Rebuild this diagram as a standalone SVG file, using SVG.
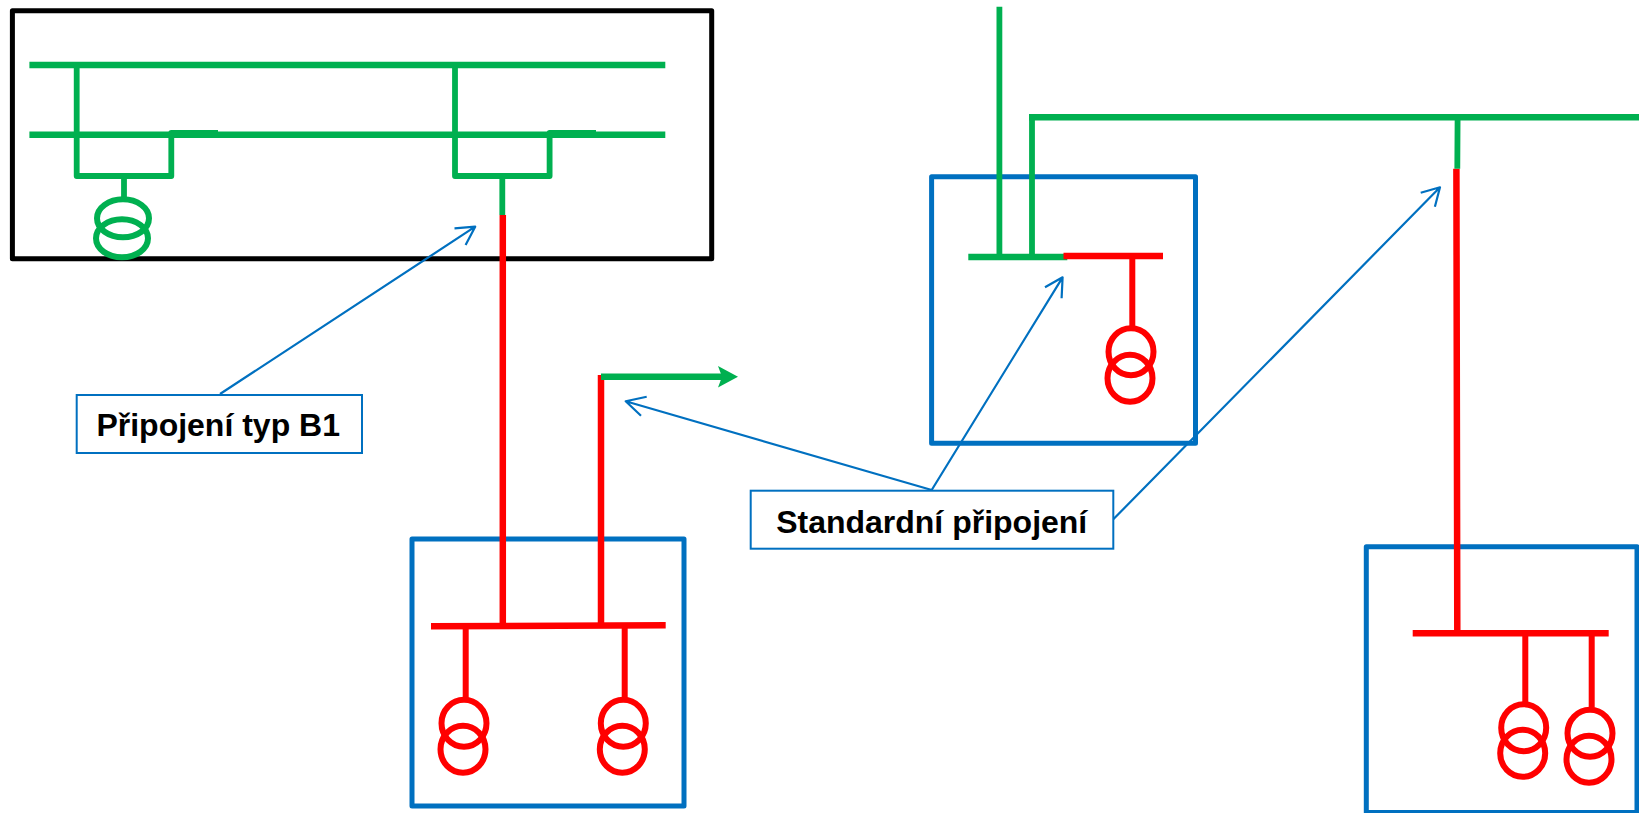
<svg xmlns="http://www.w3.org/2000/svg" width="1639" height="813" viewBox="0 0 1639 813">
<style>
.k{fill:none;stroke:#000;stroke-width:5;stroke-linejoin:round}
.b{fill:none;stroke:#0070c0;stroke-width:5;stroke-linejoin:round}
.g{fill:none;stroke:#00b050;stroke-width:5.8;stroke-linejoin:round}
.r{fill:none;stroke:#ff0000;stroke-width:6;stroke-linejoin:round}
.rc{fill:none;stroke:#ff0000;stroke-width:6.5}
.gb{fill:none;stroke:#00b050;stroke-width:6.6}
.rb{fill:none;stroke:#ff0000;stroke-width:6.6}
.e{stroke-width:6}
.a{fill:none;stroke:#0070c0;stroke-width:2.2;stroke-linejoin:round}
.l{fill:#fff;stroke:#0070c0;stroke-width:2}
.t{font-family:"Liberation Sans",Arial,sans-serif;font-weight:700;font-size:32px;fill:#000;text-anchor:middle}
</style>
<g id="substation-main">
<rect class="k" x="12.4" y="10.7" width="699.3" height="248"/>
<path class="gb" d="M29.4 65H665.3M29.4 134.7H665.3"/>
<path class="g" d="M76.7 65V176H171.3V133H218M124 176V197"/>
<ellipse class="g e" cx="123" cy="218.3" rx="26" ry="19"/>
<ellipse class="g e" cx="122" cy="238.3" rx="26" ry="19"/>
<path class="g" d="M455 65V176H549.6V133H596M502.3 176V215"/>
</g>
<g id="substation-a">
<rect class="b" x="412" y="539" width="272" height="267"/>
<path class="rb" d="M431 626.3L665.7 625.3"/>
<path class="r" d="M465.7 626V698M624.7 626V698"/>
<ellipse class="r e" cx="464" cy="723.3" rx="22.5" ry="23.5"/>
<ellipse class="r e" cx="463" cy="749.3" rx="22.5" ry="23.5"/>
<ellipse class="r e" cx="623.3" cy="723.3" rx="22.5" ry="23.5"/>
<ellipse class="r e" cx="622.3" cy="749.3" rx="22.5" ry="23.5"/>
</g>
<g id="substation-b">
<rect class="b" x="931.6" y="176.7" width="263.9" height="266.6"/>
<path class="gb" d="M968.3 257H1067.3"/>
<path class="rb" d="M1063.5 256H1163"/>
<path class="r" d="M1132.3 256V326"/>
<ellipse class="r e" cx="1131" cy="351.7" rx="22.5" ry="23.5"/>
<ellipse class="r e" cx="1130" cy="378.3" rx="22.5" ry="23.5"/>
</g>
<g id="substation-c">
<rect class="b" x="1366.3" y="546.7" width="270.7" height="265.8"/>
<path class="rb" d="M1412.7 633.3H1608.7"/>
<path class="r" d="M1525.3 633V702.7M1591.7 633V707.7"/>
<ellipse class="r e" cx="1523.7" cy="727.7" rx="22.5" ry="23.5"/>
<ellipse class="r e" cx="1522.7" cy="753.3" rx="22.5" ry="23.5"/>
<ellipse class="r e" cx="1590" cy="733.3" rx="22.5" ry="23.5"/>
<ellipse class="r e" cx="1589" cy="759.3" rx="22.5" ry="23.5"/>
</g>
<g id="connectors">
<path class="rc" d="M502.8 215V625M601 375V625M1456.4 168.7L1457.3 633"/>
<path class="g" d="M999.4 6.7V256M1032 117.3V256M1457.6 117L1457.3 168.7"/>
<path class="gb" d="M1029 117.3H1639M601 376.7H722"/>
<polygon fill="#00b050" points="718,366 738,376.7 718,387.5 722,376.7"/>
<path class="a" d="M220 394L475.2 226.7M454.5 228.3L475.2 226.7L465.6 245"/>
<path class="a" d="M931.7 490L625.7 401.3M646.7 396.7L625.7 401.3L641 415.7"/>
<path class="a" d="M931.7 490L1062.6 277.3M1045 287.3L1062.6 277.3L1061.6 298.3"/>
<path class="a" d="M1113.3 519.3L1440 187.3M1420.7 192.7L1440 187.3L1434.9 206.7"/>
</g>
<g id="label-b1">
<rect class="l" x="76.7" y="395" width="285.3" height="58"/>
<text class="t" x="218.2" y="436">Připojení typ B1</text>
</g>
<g id="label-standard">
<rect class="l" x="750.7" y="490.7" width="362.6" height="58"/>
<text class="t" x="931.7" y="532.5">Standardní připojení</text>
</g>
</svg>
